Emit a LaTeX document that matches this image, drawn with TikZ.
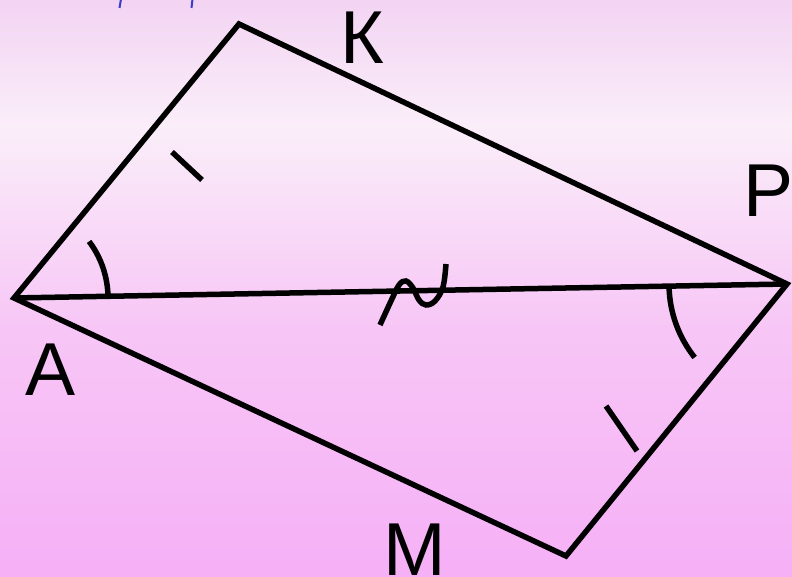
\documentclass[tikz,border=0pt]{standalone}
\usepackage{fontspec}
\setmainfont{Liberation Sans}
\definecolor{bgtop}{RGB}{243,212,243}
\definecolor{bglight}{RGB}{250,238,249}
\definecolor{bgmid}{RGB}{247,198,246}
\definecolor{bgbot}{RGB}{246,176,246}
\definecolor{markblue}{RGB}{60,60,200}
\begin{document}
\begin{tikzpicture}[x=1pt,y=1pt,
  edge/.style={line width=5.5pt,line join=miter,draw=black},
  tickmark/.style={line width=5.5pt,draw=black},
  lbl/.style={inner sep=0pt,font=\fontsize{75}{80}\selectfont}]
\useasboundingbox (0,0) rectangle (792,577);
\shade[top color=bgtop,bottom color=bglight] (0,577) rectangle (792,450);
\shade[top color=bglight,bottom color=bgmid] (0,450.5) rectangle (792,250);
\shade[top color=bgmid,bottom color=bgbot] (0,250.5) rectangle (792,0);
\draw[markblue,line width=2pt] (121,578) -- (119.5,569);
\draw[markblue,line width=2pt] (192.5,578) -- (191.5,569);
\coordinate (A) at (14,279);
\coordinate (K) at (239,553);
\coordinate (P) at (787,293);
\coordinate (M) at (566,21);
\draw[edge] (A) -- (K) -- (P) -- (M) -- cycle;
\draw[edge] (A) -- (P);
% equal-side ticks
\coordinate (t1a) at (172,425); \coordinate (t1b) at (202,397);
\coordinate (t2a) at (606,171); \coordinate (t2b) at (637,126);
\draw[tickmark] (t1a) -- (t1b);
\draw[tickmark] (t2a) -- (t2b);
% angle arcs
\draw[tickmark] ([shift={(37:94)}]A) arc[start angle=37,end angle=1,radius=94];
\draw[tickmark] ([shift={(181.5:118)}]P) arc[start angle=181.5,end angle=218.5,radius=118];
% tilde on AP
\draw[tickmark] plot[smooth,tension=0.6] coordinates {(380,252) (391,276) (399,292) (406,296) (413,289) (419,277) (426,272) (435,276) (443,290) (446,313)};
% labels
\node[lbl] (lK) at (362,539) {К};
\node[lbl] (lP) at (769,386) {Р};
\node[lbl] (lA) at (51,207) {А};
\node[lbl] (lM) at (415,27) {М};
\end{tikzpicture}
\end{document}
